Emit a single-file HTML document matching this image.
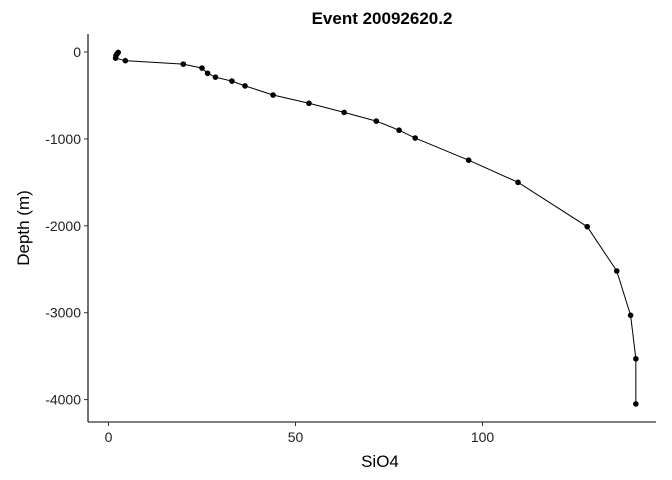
<!DOCTYPE html>
<html><head><meta charset="utf-8"><style>body{margin:0;background:#fff}svg{display:block;font-family:"Liberation Sans",sans-serif}</style></head>
<body>
<svg width="672" height="480">
<text x="382" y="24" text-anchor="middle" font-size="17" font-weight="bold">Event 20092620.2</text>
<g id="axes"></g>
<g id="marks"></g>
<text x="380" y="467" text-anchor="middle" font-size="17">SiO4</text>
<text transform="translate(29,228) rotate(-90)" text-anchor="middle" font-size="17">Depth (m)</text>
</svg>
<script>
const sio4 = [2.6,2.3,2.0,1.9,4.5,20,25,26.5,28.6,33,36.5,44,53.6,63,71.6,77.7,82,96.3,109.5,128,135.9,139.6,141,141];
const depth = [-5,-20,-40,-70,-100,-140,-185,-245,-290,-335,-390,-495,-590,-695,-795,-900,-990,-1245,-1500,-2010,-2520,-3030,-3530,-4050];
const xTicks = [0,50,100];
const yTicks = [0,-1000,-2000,-3000,-4000];
const NS='http://www.w3.org/2000/svg';
const X = v => 108.5 + v*3.74;
const Y = v => 52 - v*0.0869;
const L=88, R=656, T=34, B=422;
const axes=document.getElementById('axes'), marks=document.getElementById('marks');
function mk(tag, attrs, parent){const e=document.createElementNS(NS,tag);for(const k in attrs)e.setAttribute(k,attrs[k]);parent.appendChild(e);return e;}
let e=mk('line',{x1:L,y1:B,x2:R,y2:B,stroke:'#000','stroke-width':1.1},axes);


e=mk('line',{x1:L,y1:T,x2:L,y2:B,stroke:'#000','stroke-width':1.1},axes);


xTicks.forEach(t=>{
  mk('line',{x1:X(t),y1:B,x2:X(t),y2:B+4,stroke:'#333'},axes);
  const tx=mk('text',{x:X(t),y:B+20,'text-anchor':'middle','font-size':14,fill:'#222'},axes);
  tx.textContent=t;
  
  
});
yTicks.forEach(t=>{
  mk('line',{x1:L-4,y1:Y(t),x2:L,y2:Y(t),stroke:'#333'},axes);
  const tx=mk('text',{x:L-7,y:Y(t)+5,'text-anchor':'end','font-size':14,fill:'#222'},axes);
  tx.textContent=t;
  
  
});
const pl=mk('polyline',{points:sio4.map((v,i)=>X(v)+','+Y(depth[i])).join(' '),fill:'none',stroke:'#000','stroke-width':1},marks);


sio4.forEach((v,i)=>{
  const c=mk('circle',{cx:X(v),cy:Y(depth[i]),r:2.8,fill:'#000'},marks);
  
  
});
</script>
</body></html>
